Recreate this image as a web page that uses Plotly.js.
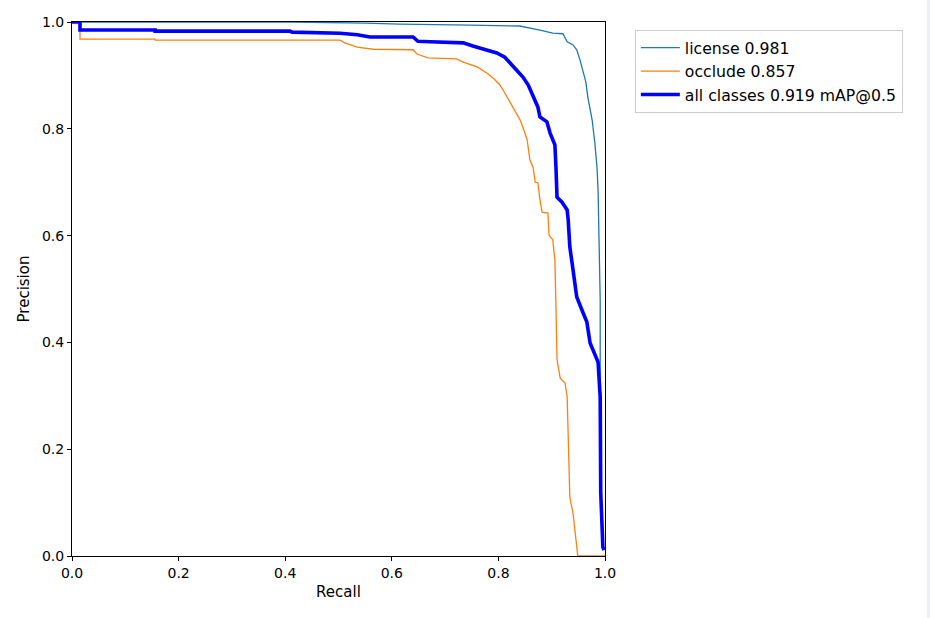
<!DOCTYPE html>
<html>
<head>
<meta charset="utf-8">
<script src="https://cdn.plot.ly/plotly-3.0.1.min.js"></script>
<style>html,body{margin:0;padding:0;background:#fff;}#chart{width:930px;height:618px;}</style>
</head>
<body>
<div id="chart"></div>
<script>
const licenseRecall = [0, 0.41, 0.55, 0.615, 0.747, 0.84, 0.878, 0.902, 0.921, 0.929, 0.94, 0.947, 0.953, 0.959, 0.964, 0.968, 0.976, 0.981, 0.985, 0.987, 0.989, 0.991, 0.991, 0.992, 0.994];
const licensePrecision = [1.0, 1.0, 0.998, 0.996, 0.994, 0.9925, 0.985, 0.979, 0.978, 0.963, 0.957, 0.948, 0.929, 0.906, 0.888, 0.858, 0.816, 0.773, 0.728, 0.685, 0.605, 0.479, 0.33, 0.2, 0.03];

const occludeRecall = [0, 0.015, 0.015, 0.156, 0.156, 0.503, 0.512, 0.535, 0.565, 0.64, 0.647, 0.668, 0.722, 0.734, 0.76, 0.779, 0.79, 0.803, 0.812, 0.822, 0.831, 0.841, 0.846, 0.854, 0.859, 0.865, 0.869, 0.874, 0.878, 0.882, 0.893, 0.895, 0.902, 0.906, 0.908, 0.91, 0.916, 0.925, 0.929, 0.931, 0.934, 0.94, 0.949, 0.949, 1.0];
const occludePrecision = [1.0, 1.0, 0.968, 0.968, 0.966, 0.966, 0.961, 0.953, 0.949, 0.948, 0.94, 0.933, 0.931, 0.925, 0.916, 0.904, 0.895, 0.882, 0.867, 0.85, 0.835, 0.816, 0.803, 0.779, 0.742, 0.728, 0.7, 0.699, 0.667, 0.644, 0.642, 0.601, 0.592, 0.554, 0.466, 0.367, 0.333, 0.324, 0.298, 0.204, 0.11, 0.08, 0.002, 0, 0];

const allRecall = [0, 0.015, 0.015, 0.156, 0.156, 0.409, 0.413, 0.503, 0.535, 0.559, 0.64, 0.649, 0.672, 0.734, 0.752, 0.779, 0.797, 0.812, 0.822, 0.835, 0.846, 0.856, 0.865, 0.874, 0.878, 0.891, 0.897, 0.906, 0.908, 0.91, 0.919, 0.929, 0.931, 0.934, 0.94, 0.947, 0.959, 0.966, 0.972, 0.981, 0.987, 0.991, 0.992, 0.996, 0.998];
const allPrecision = [1.0, 1.0, 0.985, 0.985, 0.983, 0.983, 0.981, 0.979, 0.976, 0.972, 0.972, 0.964, 0.963, 0.961, 0.955, 0.948, 0.942, 0.934, 0.923, 0.91, 0.897, 0.882, 0.86, 0.841, 0.822, 0.813, 0.792, 0.77, 0.728, 0.672, 0.663, 0.648, 0.629, 0.579, 0.536, 0.485, 0.455, 0.438, 0.399, 0.376, 0.363, 0.298, 0.118, 0.017, 0.011];

const seriesNames = ["license 0.981", "occlude 0.857", "all classes 0.919 mAP@0.5"];
const tickVals = [0, 0.2, 0.4, 0.6, 0.8, 1.0];
const tickText = ["0.0", "0.2", "0.4", "0.6", "0.8", "1.0"];

const font = "DejaVu Sans, sans-serif";
const traces = [
  {x: licenseRecall, y: licensePrecision, name: seriesNames[0], mode: "lines", line: {color: "#1f77b4", width: 1.3}},
  {x: occludeRecall, y: occludePrecision, name: seriesNames[1], mode: "lines", line: {color: "#ff7f0e", width: 1.3}},
  {x: allRecall, y: allPrecision, name: seriesNames[2], mode: "lines", line: {color: "#0000ff", width: 3.6}}
];
const axisBase = {
  range: [0, 1], tickvals: tickVals, ticktext: tickText, ticks: "outside", ticklen: 4, tickwidth: 1, tickcolor: "#000",
  showline: true, linecolor: "#000", linewidth: 1, mirror: true, showgrid: false, zeroline: false,
  tickfont: {family: font, size: 14, color: "#000"}
};
const layout = {
  width: 930, height: 618,
  margin: {l: 72, r: 325, t: 22, b: 62},
  paper_bgcolor: "#fff", plot_bgcolor: "#fff",
  font: {family: font, size: 14, color: "#000"},
  xaxis: Object.assign({}, axisBase, {title: {text: "Recall", font: {family: font, size: 15, color: "#000"}, standoff: 6}}),
  yaxis: Object.assign({}, axisBase, {title: {text: "Precision", font: {family: font, size: 15, color: "#000"}, standoff: 8}}),
  showlegend: true,
  legend: {x: 1.056, y: 0.985, xanchor: "left", yanchor: "top", bgcolor: "#fff", bordercolor: "#cccccc", borderwidth: 1,
           font: {family: font, size: 15.7, color: "#000"}, tracegroupgap: 0, itemwidth: 39},
  shapes: [{type: "rect", xref: "paper", yref: "paper", x0: (927 - 72) / 533, x1: (931 - 72) / 533, y0: -0.2, y1: 1.1, fillcolor: "#eceff5", line: {width: 0}, layer: "below"}]
};
Plotly.newPlot("chart", traces, layout, {displayModeBar: false, staticPlot: true});
</script>
</body>
</html>
